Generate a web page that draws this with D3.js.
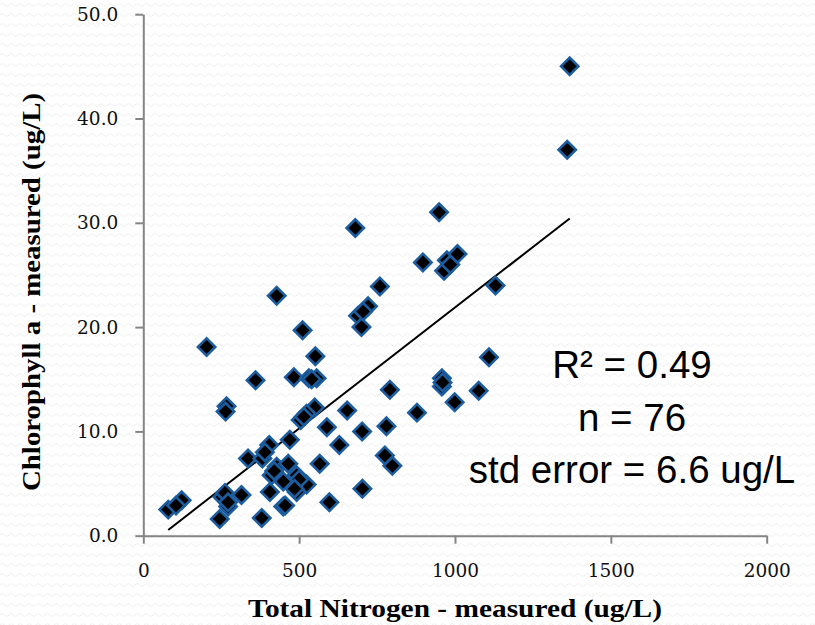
<!DOCTYPE html>
<html>
<head>
<meta charset="utf-8">
<script src="https://cdn.jsdelivr.net/npm/d3@7"></script>
<style>
  html, body { margin: 0; padding: 0; background: #ffffff; }
  svg { display: block; }
</style>
</head>
<body>
<svg id="chart" width="815" height="625"></svg>
<script>
// ---- data ----
const totalNitrogen = [1368,1360,949,680,897,974,1008,965,1130,759,
  721,689,700,428,203,511,552,1109,360,483,
  531,556,958,958,1076,791,999,878,654,267,
  264,550,524,505,589,702,780,470,404,629,
  336,382,428,465,566,775,799,412,492,449,
  524,492,406,315,254,272,449,597,703,123,
  80,245,380,
  262,105,500,705,985,390,455,515,540,485,420,272,960];
const chlorophyll = [45.0,37.0,31.0,29.5,26.2,26.4,27.0,25.4,24.0,23.9,
  22.0,21.1,20.0,23.0,18.1,19.7,17.2,17.1,14.9,15.2,
  15.1,15.1,15.1,14.3,13.9,14.0,12.8,11.8,12.0,12.4,
  11.9,12.3,11.7,11.1,10.4,10.0,10.5,9.2,8.7,8.7,
  7.4,7.4,6.6,6.9,6.9,7.7,6.7,5.8,5.8,5.2,
  4.9,4.2,4.2,3.9,3.7,2.8,2.8,3.2,4.5,3.4,
  2.5,1.6,1.7,
  4.1,2.9,5.4,21.5,26.0,8.0,2.9,11.4,15.0,4.5,6.2,3.2,14.7];
const trendSlope = 0.02318;
const trendIntercept = -1.30;
const xTicks = [0, 500, 1000, 1500, 2000];
const yTicks = [0, 10, 20, 30, 40, 50];
const statLines = ["R\u00B2 = 0.49", "n = 76", "std error = 6.6 ug/L"];
const xTitle = "Total Nitrogen - measured (ug/L)";
const yTitle = "Chlorophyll a - measured (ug/L)";

const points = totalNitrogen.map((x, i) => ({x, y: chlorophyll[i]}));

// ---- layout ----
const svg = d3.select("#chart");
const plotLeft = 143.3, plotRight = 766.7, plotTop = 14.2, plotBottom = 535.7;

// faint wavy background
const defs = svg.append("defs");
const pat = defs.append("pattern").attr("id", "waves")
  .attr("patternUnits", "userSpaceOnUse").attr("width", 9).attr("height", 10);
pat.append("rect").attr("width", 9).attr("height", 10).attr("fill", "#ffffff");
pat.append("path").attr("d", "M0,5 Q2.25,2 4.5,5 T9,5")
  .attr("fill", "none").attr("stroke", "#efefef").attr("stroke-width", 1);
svg.append("rect").attr("width", 815).attr("height", 625).attr("fill", "url(#waves)");

const x = d3.scaleLinear().domain([0, 2000]).range([plotLeft, plotRight]);
const y = d3.scaleLinear().domain([0, 50]).range([plotBottom, plotTop]);

const axisColor = "#858585";
const tickFont = "'DejaVu Serif', 'Liberation Serif', serif";
const titleFont = "'Liberation Serif', 'DejaVu Serif', serif";

// x axis
const gx = svg.append("g").attr("transform", `translate(0,${plotBottom})`)
  .call(d3.axisBottom(x).tickValues(xTicks).tickSize(8).tickSizeOuter(0).tickPadding(20)
    .tickFormat(d3.format("d")));
gx.select(".domain").attr("stroke", axisColor).attr("stroke-width", 2);
gx.selectAll(".tick line").attr("stroke", axisColor).attr("stroke-width", 2);
gx.selectAll(".tick text").attr("font-family", tickFont).attr("font-size", 18.5)
  .attr("fill", "#111");

// y axis
const gy = svg.append("g").attr("transform", `translate(${plotLeft},0)`)
  .call(d3.axisLeft(y).tickValues(yTicks).tickSize(8).tickSizeOuter(0).tickPadding(17)
    .tickFormat(d3.format(".1f")));
gy.select(".domain").attr("stroke", axisColor).attr("stroke-width", 2);
gy.selectAll(".tick line").attr("stroke", axisColor).attr("stroke-width", 2);
gy.selectAll(".tick text").attr("font-family", tickFont).attr("font-size", 18.5)
  .attr("fill", "#111");

// trend line
const xExt = d3.extent(totalNitrogen);
svg.append("line")
  .attr("x1", x(xExt[0])).attr("y1", y(trendSlope * xExt[0] + trendIntercept))
  .attr("x2", x(xExt[1])).attr("y2", y(trendSlope * xExt[1] + trendIntercept))
  .attr("stroke", "#000").attr("stroke-width", 2);

// points: square diamonds
const sym = d3.symbol().type(d3.symbolSquare).size(150);
svg.append("g").selectAll("path").data(points).join("path")
  .attr("d", sym)
  .attr("transform", d => `translate(${x(d.x)},${y(d.y)}) rotate(45)`)
  .attr("fill", "#000")
  .attr("stroke", "#1b5d9e")
  .attr("stroke-width", 2.6);

// stats text
const stats = svg.append("g").attr("font-family", "'Liberation Sans', Arial, sans-serif")
  .attr("font-size", 38.5).attr("fill", "#000").attr("text-anchor", "middle");
const statBase = [378, 431, 483];
stats.selectAll("text").data(statLines).join("text")
  .attr("x", 632).attr("y", (d, i) => statBase[i]).text(d => d);

// axis titles
svg.append("text").attr("x", 455).attr("y", 617)
  .attr("text-anchor", "middle")
  .attr("font-family", titleFont)
  .attr("font-weight", "bold").attr("font-size", 26).attr("fill", "#000")
  .attr("textLength", 414).attr("lengthAdjust", "spacingAndGlyphs")
  .text(xTitle);
svg.append("text")
  .attr("transform", "translate(40,292) rotate(-90)")
  .attr("text-anchor", "middle")
  .attr("font-family", titleFont)
  .attr("font-weight", "bold").attr("font-size", 26).attr("fill", "#000")
  .attr("textLength", 398).attr("lengthAdjust", "spacingAndGlyphs")
  .text(yTitle);
</script>
</body>
</html>
